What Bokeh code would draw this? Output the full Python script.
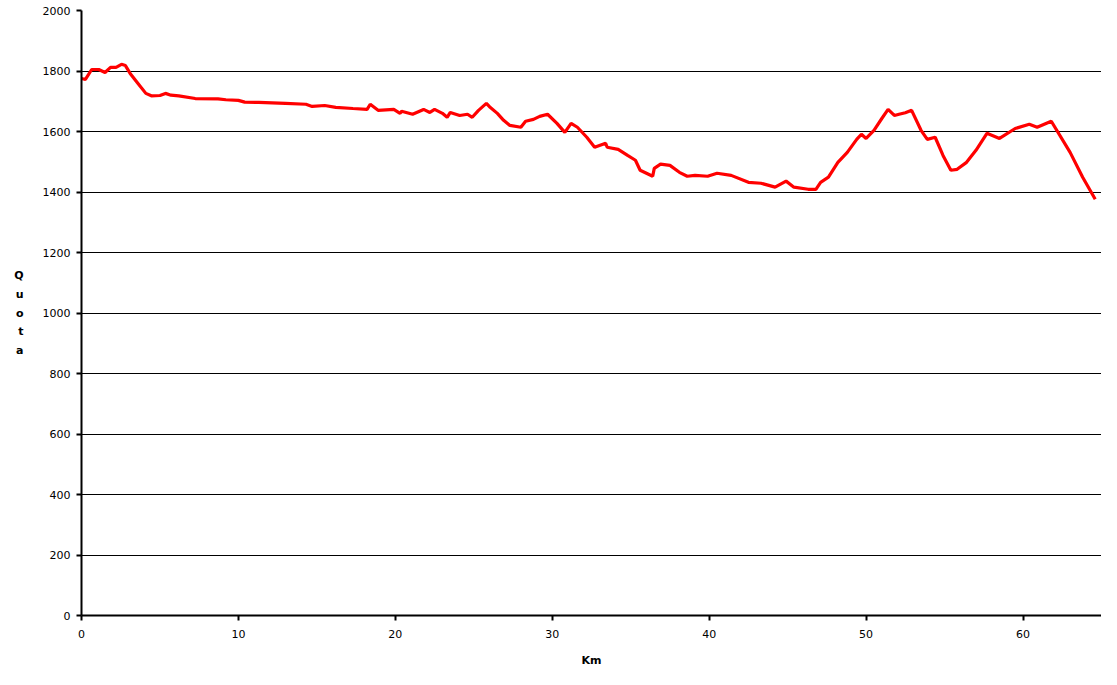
from bokeh.plotting import figure
from bokeh.models import Range1d, FixedTicker
from bokeh.embed import file_html
from bokeh.resources import INLINE

km = [0.0, 0.25, 0.65, 1.1, 1.5, 1.85, 2.2, 2.55, 2.8, 3.1, 3.6, 4.1, 4.45, 5.0, 5.35, 5.7,
      6.2, 7.25, 8.7, 9.2, 10.0, 10.4, 11.3, 13.0, 14.3, 14.7, 15.5, 16.2, 17.3, 18.2, 18.4,
      18.9, 19.9, 20.3, 20.4, 21.1, 21.8, 22.2, 22.5, 23.0, 23.3, 23.5, 24.1, 24.6, 24.9,
      25.3, 25.8, 26.0, 26.5, 26.9, 27.3, 28.0, 28.3, 28.8, 29.2, 29.7, 30.3, 30.8, 31.2,
      31.6, 32.2, 32.7, 33.4, 33.5, 34.2, 34.8, 35.3, 35.6, 36.4, 36.5, 36.9, 37.5, 38.1,
      38.6, 39.1, 39.9, 40.5, 41.4, 42.5, 43.3, 44.2, 44.9, 45.4, 46.3, 46.8, 47.1, 47.6,
      48.2, 48.8, 49.4, 49.7, 50.0, 50.5, 51.0, 51.4, 51.8, 52.1, 52.5, 52.9, 53.5, 53.9,
      54.4, 54.9, 55.4, 55.8, 56.4, 57.0, 57.7, 58.5, 59.5, 60.4, 60.9, 61.8, 63.0, 63.8, 64.6]
quota = [1775, 1772, 1805, 1805, 1795, 1812, 1812, 1822, 1818, 1792, 1759, 1726, 1718, 1719, 1726, 1720,
         1718, 1709, 1708, 1705, 1703, 1697, 1696, 1693, 1690, 1683, 1686, 1680, 1676, 1673, 1690,
         1670, 1673, 1660, 1667, 1657, 1673, 1663, 1673, 1660, 1647, 1663, 1653, 1657, 1647,
         1670, 1693, 1682, 1660, 1637, 1620, 1614, 1634, 1640, 1650, 1657, 1627, 1597, 1627,
         1614, 1581, 1548, 1561, 1548, 1541, 1521, 1505, 1472, 1452, 1478, 1492, 1488, 1465,
         1452, 1455, 1452, 1462, 1455, 1432, 1429, 1416, 1436, 1416, 1409, 1409, 1432, 1449,
         1498, 1531, 1574, 1591, 1577, 1604, 1643, 1673, 1653, 1657, 1662, 1670, 1604, 1574,
         1581, 1521, 1472, 1475, 1498, 1538, 1594, 1577, 1610, 1624, 1614, 1634, 1531, 1449, 1376]

x_ticks = [0, 10, 20, 30, 40, 50, 60]
y_ticks = [0, 200, 400, 600, 800, 1000, 1200, 1400, 1600, 1800, 2000]

FONT = "DejaVu Sans"

p = figure(width=1101, height=669, output_backend="svg", toolbar_location=None,
           x_range=Range1d(0, 65), y_range=Range1d(0, 2000),
           min_border_left=81, min_border_right=0, min_border_top=10, min_border_bottom=53)
p.outline_line_color = None
p.background_fill_color = "white"

p.line(km, quota, line_color="#ff0000", line_width=3.2)

for ax in (p.xaxis[0], p.yaxis[0]):
    ax.axis_line_color = "black"
    ax.axis_line_width = 2
    ax.major_tick_line_color = "black"
    ax.major_tick_line_width = 2
    ax.major_tick_out = 5
    ax.major_tick_in = 0
    ax.minor_tick_line_color = None
    ax.major_label_text_font = FONT
    ax.major_label_text_font_size = "11px"
    ax.major_label_text_color = "black"
    ax.axis_label_text_font = FONT
    ax.axis_label_text_font_size = "11px"
    ax.axis_label_text_font_style = "bold"
    ax.axis_label_text_color = "black"

p.xaxis[0].ticker = FixedTicker(ticks=x_ticks)
p.yaxis[0].ticker = FixedTicker(ticks=y_ticks)
p.xaxis[0].axis_label = "Km"
p.xaxis[0].major_label_standoff = 9
p.xaxis[0].axis_label_standoff = 13
p.yaxis[0].axis_label = "Q\nu\no\nt\na"
p.yaxis[0].axis_label_orientation = "horizontal"
p.yaxis[0].axis_label_text_line_height = 1.45
p.yaxis[0].major_label_standoff = 6
p.yaxis[0].axis_label_standoff = 16

p.xgrid.grid_line_color = None
p.ygrid.grid_line_color = "black"
p.ygrid.grid_line_width = 1
p.ygrid.ticker = FixedTicker(ticks=y_ticks)

open("out.html", "w").write(file_html(p, INLINE))
